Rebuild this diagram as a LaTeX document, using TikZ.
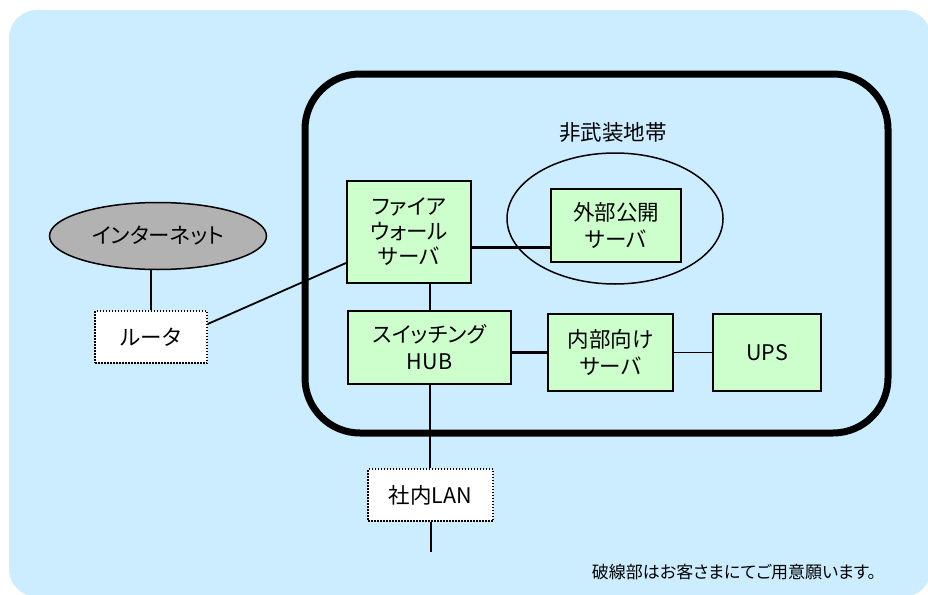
\documentclass[tikz,border=0pt]{standalone}
\usepackage{fontspec}
\setmainfont{Noto Sans CJK JP}[RawFeature=+palt]
\usetikzlibrary{shapes.geometric}
\definecolor{bgblue}{HTML}{CCECFF}
\definecolor{boxgreen}{HTML}{CCFFCC}
\definecolor{netgray}{HTML}{B2B2B2}
\tikzset{
	srvbox/.style={draw, line width=2pt, fill=boxgreen, inner sep=0pt, align=center, font=\fontsize{21.5}{27}\selectfont},
	userbox/.style={draw, line width=1.5pt, dash pattern=on 1.5pt off 1.5pt, fill=white, inner sep=0pt, font=\fontsize{21.5}{27}\selectfont},
	thinlink/.style={line width=1.8pt},
	thicklink/.style={line width=3pt}
}
\begin{document}
\begin{tikzpicture}[x=1pt,y=-1pt]
	    \useasboundingbox (0,0) rectangle (928,594);
	    \clip (0,0) rectangle (928,594);
	    \fill[bgblue, rounded corners=28pt] (9,10) rectangle (931,597);
	    \draw[line width=7pt, rounded corners=55pt] (305,74) rectangle (888,433);
	    \node[font=\fontsize{21.5}{26}\selectfont] (dmzlabel) at (613,132) {非武装地帯};
	    \node[ellipse, draw, line width=1.5pt, minimum width=216pt, minimum height=131pt] (pubzone) at (615,218.5) {};
	    \node[ellipse, draw, line width=1.5pt, fill=netgray, inner sep=0pt, minimum width=217pt, minimum height=67pt, font=\fontsize{21.5}{26}\selectfont] (inet) at (158,236) {インターネット};
	    \node[userbox, minimum width=112pt, minimum height=52pt] (router) at (151,337) {ルータ};
	    \node[srvbox, minimum width=124pt, minimum height=102pt, font=\fontsize{21.5}{25}\selectfont] (fw) at (409,232) {ファイア\\ウォール\\サーバ};
	    \node[srvbox, minimum width=130pt, minimum height=73pt] (pubsrv) at (616,225.5) {外部公開\\サーバ};
	    \node[srvbox, minimum width=163pt, minimum height=73pt] (hub) at (429.5,347.5) {スイッチング\\HUB};
	    \node[srvbox, minimum width=125pt, minimum height=77pt] (insrv) at (610.5,352.5) {内部向け\\サーバ};
	    \node[srvbox, minimum width=108pt, minimum height=77pt] (ups) at (767,352.5) {UPS};
	    \node[userbox, minimum width=125pt, minimum height=52pt] (lan) at (430.5,495) {社内LAN};
	    \coordinate (lanend) at (429,552);
	    \node[font=\fontsize{17}{20}\selectfont] (note) at (734,572) {破線部はお客さまにてご用意願います。};
	    \draw[line width=2pt] (router.north) -- (router.north |- inet.south);
	    \draw[thinlink] ([yshift=13pt]router.east) -- ([yshift=-31pt]fw.west);
	    \draw[thicklink] ([yshift=-15pt]fw.east) -- ([yshift=-21.5pt]pubsrv.west);
	    \draw[line width=2pt] (hub.north) -- (hub.north |- fw.south);
	    \draw[line width=2pt] (hub.south) -- (hub.south |- lan.north);
	    \draw[line width=2pt] (lan.south) -- (lan.south |- lanend);
	    \draw[thicklink] (insrv.west) -- (insrv.west -| hub.east);
	    \draw[thinlink] (insrv.east) -- (ups.west);
\end{tikzpicture}
\end{document}
